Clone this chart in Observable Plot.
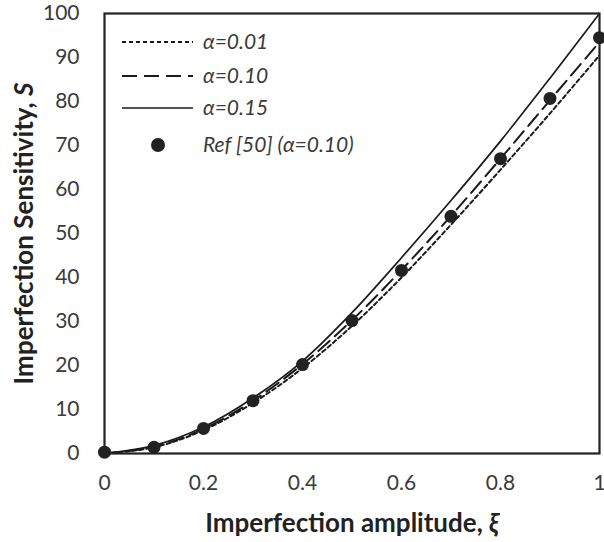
<!DOCTYPE html>
<html><head><meta charset="utf-8">
<script src="https://cdn.jsdelivr.net/npm/d3@7"></script>
<script src="https://cdn.jsdelivr.net/npm/@observablehq/plot@0.6"></script>
<style>
body{margin:0;background:#fff;font-family:Lato,"Open Sans",sans-serif;}
#wrap{position:relative;width:604px;height:542px;}
#legend{position:absolute;left:0;top:0;pointer-events:none;}
</style></head>
<body><div id="wrap"></div>
<script>
const xs = [0,0.1,0.2,0.3,0.4,0.5,0.6,0.7,0.8,0.9,1.0];
const alpha001 = [0,1.4,5.3,11.5,19.4,29.0,40.0,52.0,64.5,77.3,90.5];
const alpha010 = [0,1.5,5.6,12.0,20.3,30.3,41.7,54.0,67.0,80.3,93.5];
const alpha015 = [0,1.8,6.0,12.6,21.0,32.0,44.5,57.5,71.0,85.3,100];
const refXs = [0,0.1,0.2,0.3,0.4,0.5,0.6,0.7,0.8,0.9,1.0];
const refVals = [0.3,1.4,5.7,12.0,20.2,30.2,41.6,53.9,67.0,80.7,94.5];
const xTicks = [0,0.2,0.4,0.6,0.8,1];
const yTicks = [0,10,20,30,40,50,60,70,80,90,100];
const series = [
  {name:"α=0.01", vals:alpha001, dash:"4,3"},
  {name:"α=0.10", vals:alpha010, dash:"15,7"},
  {name:"α=0.15", vals:alpha015, dash:null}
];
const lineData = series.flatMap(s => xs.map((x,i)=>({x, y:s.vals[i], name:s.name})));
const refData = refXs.map((x,i)=>({x, y:refVals[i]}));

const font = "Lato, 'Open Sans', sans-serif";
const chart = Plot.plot({
  width:604, height:542,
  marginLeft:104, marginRight:5, marginTop:13, marginBottom:89,
  style:{fontFamily:font, fontSize:"21px", color:"#3a3a3a", background:"#fff"},
  x:{domain:[0,1], label:null},
  y:{domain:[0,100], label:null},
  marks:[
    ...series.map(s => Plot.line(lineData.filter(d=>d.name===s.name), {
      x:"x", y:"y", curve:"catmull-rom", stroke:"#1a1a1a", strokeWidth:s.dash?2:1.7,
      strokeDasharray:s.dash, clip:true})),
    Plot.dot(refData, {x:"x", y:"y", r:6.5, fill:"#222", stroke:"none"}),
    Plot.frame({stroke:"#222", strokeWidth:2.2}),
    Plot.axisX({ticks:xTicks, tickFormat:d=>String(d), tickSize:0, tickPadding:22, fontSize:21, label:null}),
    Plot.axisY({ticks:yTicks, tickSize:0, tickPadding:25, fontSize:21, label:null}),
    Plot.text([0], {frameAnchor:"bottom", lineAnchor:"middle", dy:70, fontWeight:"bold", fontSize:26, fill:"#222",
      text:()=>"Imperfection amplitude, ξ"}),
    Plot.text([0], {frameAnchor:"left", textAnchor:"middle", lineAnchor:"middle", dx:-80, rotate:-90, fontWeight:"bold", fontSize:26, fill:"#222",
      text:()=>"Imperfection Sensitivity, S"})
  ]
});
document.getElementById("wrap").appendChild(chart);

// make the trailing symbols italic like the reference
d3.select(chart).selectAll("text").each(function(){
  const t = d3.select(this);
  const s = t.text();
  if (s === "Imperfection amplitude, ξ" || s === "Imperfection Sensitivity, S") {
    const last = s.slice(-1);
    t.text(s.slice(0,-1));
    t.append("tspan").attr("font-style","italic").text(last);
  }
});

// legend overlay
const leg = d3.select("#wrap").append("svg").attr("id","legend").attr("width",604).attr("height",542);
const rows = [...series.map(s=>({name:s.name, dash:s.dash, type:"line"})), {name:"Ref [50] (α=0.10)", type:"dot"}];
rows.forEach((r,i)=>{
  const y = [42,76,108,145][i];
  if(r.type==="line"){
    leg.append("line").attr("x1",122).attr("x2",193).attr("y1",y).attr("y2",y)
      .attr("stroke","#1a1a1a").attr("stroke-width",r.dash?2:1.7).attr("stroke-dasharray",r.dash);
  } else {
    leg.append("circle").attr("cx",158).attr("cy",y).attr("r",7).attr("fill","#222");
  }
  leg.append("text").attr("x",203).attr("y",y).attr("dy","0.35em").attr("font-style","italic")
    .attr("font-family",font).attr("font-size",21).attr("fill","#3a3a3a").text(r.name);
});
</script></body></html>
